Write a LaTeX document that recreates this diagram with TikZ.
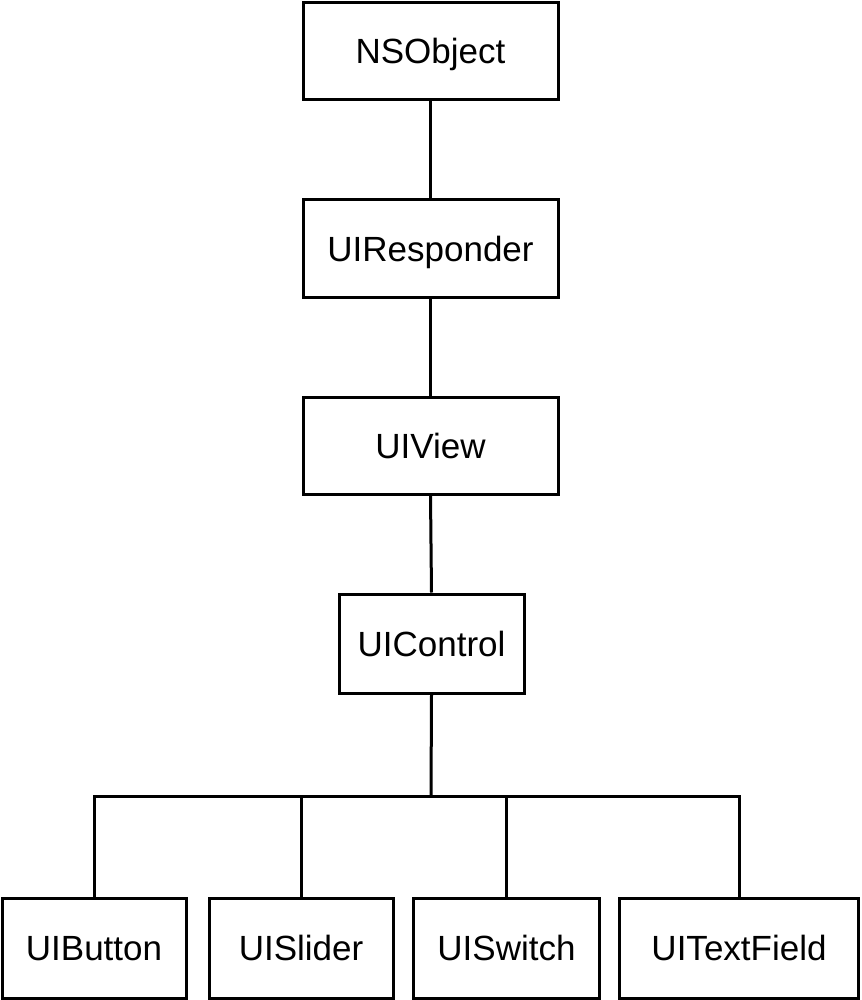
\documentclass[tikz,border=0pt]{standalone}
\usepackage{fontspec}
\setmainfont{Liberation Sans}
\begin{document}
\begin{tikzpicture}[x=1pt,y=-1pt,
  cls/.style={draw=black, line width=3pt, fill=white, inner sep=0pt, text height=25pt, text depth=0pt, font=\fontsize{35}{42}\selectfont},
  link/.style={draw=black, line width=3pt}]
\useasboundingbox (0,0) rectangle (861,1000);
\node[cls, minimum width=255pt, minimum height=97pt] (nsobj) at (430.5,51) {NSObject};
\node[cls, minimum width=255pt, minimum height=97pt] (resp) at (430.5,248.5) {UIResponder};
\node[cls, minimum width=255pt, minimum height=97pt] (view) at (430.5,446) {UIView};
\node[cls, minimum width=185pt, minimum height=99pt] (ctrl) at (431.5,643.5) {UIControl};
\node[cls, minimum width=184pt, minimum height=100pt] (btn) at (94,948) {UIButton};
\node[cls, minimum width=184pt, minimum height=100pt] (sld) at (301,948) {UISlider};
\node[cls, minimum width=186pt, minimum height=100pt] (sw) at (506.5,948) {UISwitch};
\node[cls, minimum width=239pt, minimum height=100pt] (tf) at (739,948) {UITextField};
\coordinate (bus) at (431,796);
\draw[link] (nsobj) -- (resp);
\draw[link] (resp) -- (view);
\draw[link] (view.south) -- (ctrl.north);
\draw[link] (ctrl.south) -- (bus);
\draw[link, line join=miter] (btn.north) |- (bus);
\draw[link, line join=miter] (tf.north) |- (bus);
\draw[link] (sld.north) -- (sld.north |- bus);
\draw[link] (sw.north) -- (sw.north |- bus);
\end{tikzpicture}
\end{document}
